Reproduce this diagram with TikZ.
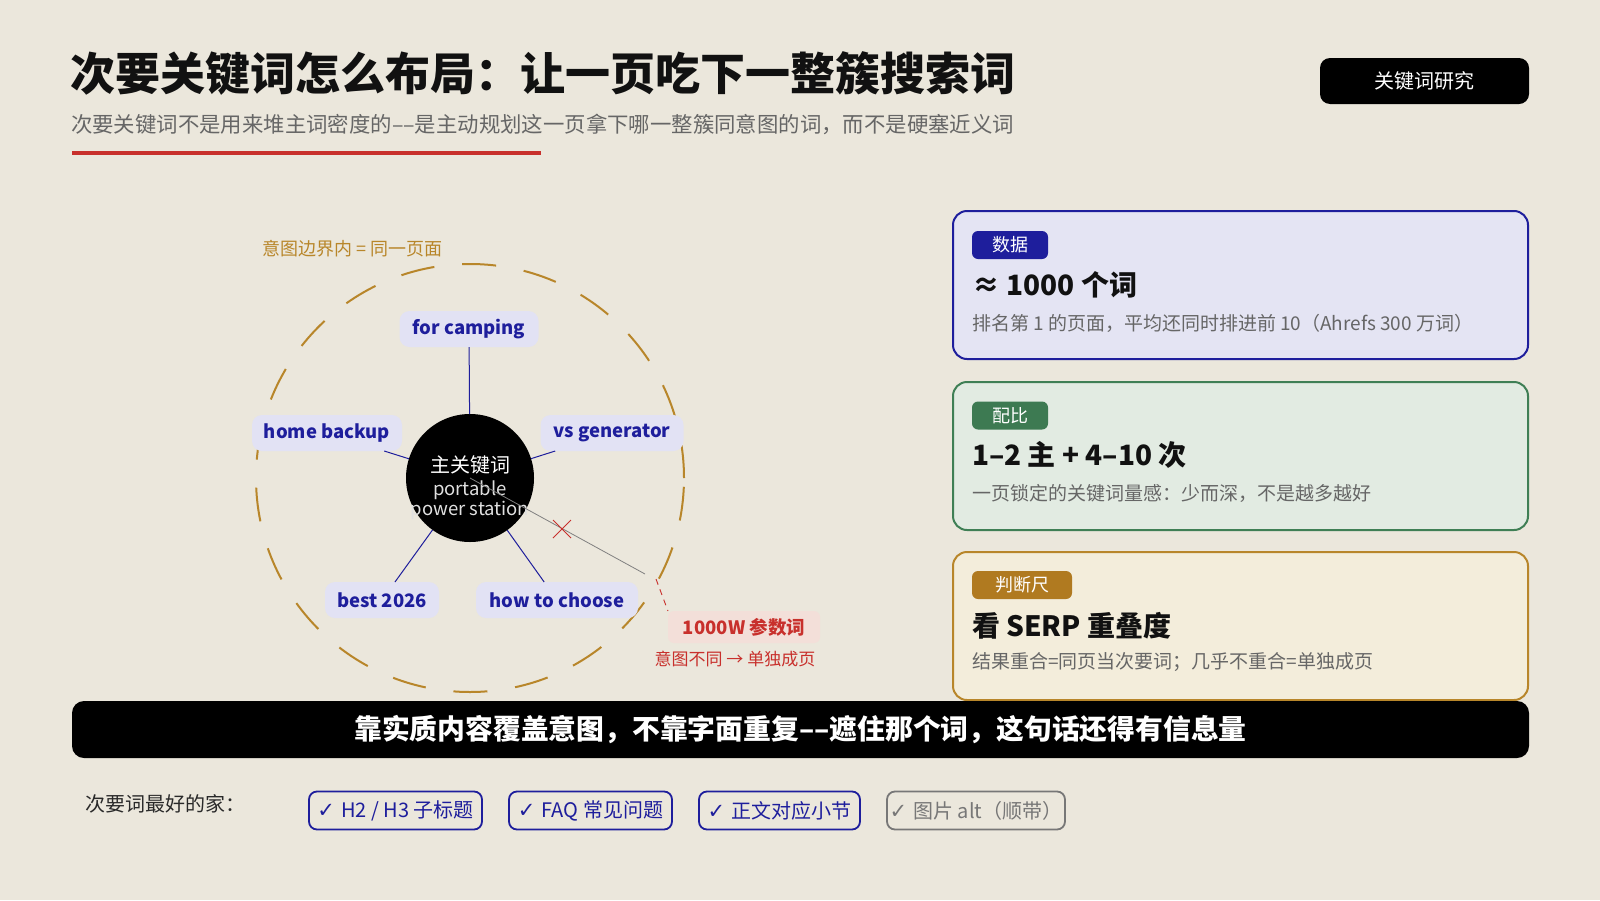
\documentclass[tikz,border=0pt]{standalone}
\usepackage{fontspec}
\setmainfont{Noto Sans CJK SC}
\newfontfamily\dejavu{DejaVu Sans}
\definecolor{bg}{HTML}{EBE7DC}
\definecolor{navy}{HTML}{1E1E9C}
\definecolor{pillfill}{HTML}{E2E2F4}
\definecolor{gold}{HTML}{B8862A}
\definecolor{redc}{HTML}{C8302C}
\definecolor{pinkfill}{HTML}{F3DFD9}
\definecolor{subgray}{HTML}{666666}
\definecolor{titlecol}{HTML}{111111}
\definecolor{cafill}{HTML}{E4E4F3}
\definecolor{caborder}{HTML}{1E1E9C}
\definecolor{cbfill}{HTML}{E2EBE2}
\definecolor{cbborder}{HTML}{3F7F55}
\definecolor{ccfill}{HTML}{F3EDDB}
\definecolor{ccborder}{HTML}{B8862A}
\definecolor{tagb}{HTML}{3D7A52}
\definecolor{tagc}{HTML}{B07A20}
\definecolor{chipgray}{HTML}{777777}
\newcommand{\fs}[1]{\fontsize{#1}{#1}\selectfont}
\newcommand{\chk}{{\dejavu\fontsize{21}{21}\selectfont ✓}\hspace{6pt}}
\begin{document}
\begin{tikzpicture}[x=1pt,y=-1pt,
  every node/.style={inner sep=0pt, outer sep=0pt},
  pill/.style={fill=pillfill, rounded corners=10pt, text=navy, font=\fs{18.5}\bfseries, minimum height=36pt},
  card/.style={rounded corners=14pt, line width=2pt, minimum width=575pt, minimum height=148pt, anchor=north west},
  tagbox/.style={rounded corners=6pt, text=white, font=\fs{18}, minimum height=28pt},
  head/.style={anchor=west, text=titlecol, font=\fs{28}\bfseries},
  desc/.style={anchor=west, text=subgray, font=\fs{19}},
  chip/.style={draw=navy, text=navy, rounded corners=8pt, line width=1.8pt, minimum height=38pt, font=\fs{20}},
  spoke/.style={draw=navy, line width=1pt}
]
\fill[bg] (0,0) rectangle (1600,900);
\useasboundingbox (0,0) rectangle (1600,900);

% title
\node[anchor=west, text=titlecol, font=\fs{45}\bfseries] (title) at (70,73) {次要关键词怎么布局：让一页吃下一整簇搜索词};
\node[anchor=west, text=subgray, font=\fs{21.4}] (subtitle) at (71,124) {次要关键词不是用来堆主词密度的––是主动规划这一页拿下哪一整簇同意图的词，而不是硬塞近义词};
\fill[redc] (72,151) rectangle (541,155);
\node[fill=black, rounded corners=10pt, minimum width=209pt, minimum height=46pt, text=white, font=\fs{20}] (tag) at (1424.5,81) {关键词研究};

% intent boundary
\draw[gold, line width=2pt, dash pattern=on 34pt off 28pt] (470,478) circle[radius=214pt];
\node[anchor=west, text=gold, font=\fs{18}] (blabel) at (262,249) {意图边界内 = 同一页面};

% hub
\node[circle, fill=black, minimum size=128pt] (hub) at (470,478) {};
\node[text=white, font=\fs{20}] (hubt1) at (470,465) {主关键词};
\node[text=white!88!black, font=\fs{18.5}] (hubt2) at (470,490) {portable};
\node[text=white!88!black, font=\fs{18.5}] (hubt3) at (470,510) {power station};

% satellites
\node[pill, minimum width=139pt] (camp) at (469,329) {for camping};
\node[pill, minimum width=150pt] (home) at (327,433) {home backup};
\node[pill, minimum width=143pt] (vsgen) at (612,433) {vs generator};
\node[pill, minimum width=114pt] (best) at (382,600) {best 2026};
\node[pill, minimum width=162pt] (howto) at (557,600) {how to choose};
\draw[spoke] (hub) -- (camp);
\draw[spoke] (hub) -- (home);
\draw[spoke] (hub) -- (vsgen);
\draw[spoke] (hub) -- (best);
\draw[spoke] (hub) -- (howto);

% out-of-intent keyword
\node[fill=pinkfill, rounded corners=6pt, minimum width=152pt, minimum height=32pt, text=redc, font=\fs{18.5}\bfseries] (param) at (744,627) {1000W 参数词};
\node[text=redc, font=\fs{17}] (paramsub) at (735,659) {意图不同 → 单独成页};
\coordinate (gend) at (645,574);
\coordinate (rstart) at (656,579);
\coordinate (xmark) at (562,529);
\draw[gray, line width=0.8pt] (hub.center) -- (gend);
\draw[redc, line width=0.9pt, dash pattern=on 6pt off 5pt] (rstart) -- (param.north west);
\draw[redc, line width=0.9pt] ([shift={(-9,-9)}]xmark) -- ([shift={(9,9)}]xmark) ([shift={(-9,9)}]xmark) -- ([shift={(9,-9)}]xmark);

% cards
\node[card, fill=cafill, draw=caborder] (carda) at (953,211) {};
\node[tagbox, fill=navy, minimum width=76pt] (taga) at (1010,245) {数据};
\node[head] (heada) at (972,285) {≈ 1000 个词};
\node[desc] (desca) at (972,323) {排名第 1 的页面，平均还同时排进前 10（Ahrefs 300 万词）};

\node[card, fill=cbfill, draw=cbborder] (cardb) at (953,382) {};
\node[tagbox, fill=tagb, minimum width=76pt] (tagbb) at (1010,415.5) {配比};
\node[head] (headb) at (972,455) {1–2 主 + 4–10 次};
\node[desc] (descb) at (972,493) {一页锁定的关键词量感：少而深，不是越多越好};

\node[card, fill=ccfill, draw=ccborder] (cardc) at (953,552) {};
\node[tagbox, fill=tagc, minimum width=100pt] (tagcc) at (1022,585) {判断尺};
\node[head] (headc) at (972,626) {看 SERP 重叠度};
\node[desc] (descc) at (972,662) {结果重合=同页当次要词；几乎不重合=单独成页};

% bottom bar
\node[fill=black, rounded corners=12pt, minimum width=1457pt, minimum height=57pt, text=white, font=\fs{27.8}\bfseries] (bar) at (800.5,729.5) {靠实质内容覆盖意图，不靠字面重复––遮住那个词，这句话还得有信息量};

% homes
\node[anchor=west, text=titlecol!90!white, font=\fs{20}] (homes) at (85,804) {次要词最好的家：};
\node[chip, minimum width=173pt] (chipa) at (395.5,810.5) {\chk H2 / H3 子标题};
\node[chip, minimum width=163pt] (chipb) at (590.5,810.5) {\chk FAQ 常见问题};
\node[chip, minimum width=161pt] (chipc) at (779.5,810.5) {\chk 正文对应小节};
\node[chip, draw=chipgray, text=chipgray, minimum width=178pt] (chipd) at (976,810.5) {\chk 图片 alt（顺带）};
\end{tikzpicture}
\end{document}
